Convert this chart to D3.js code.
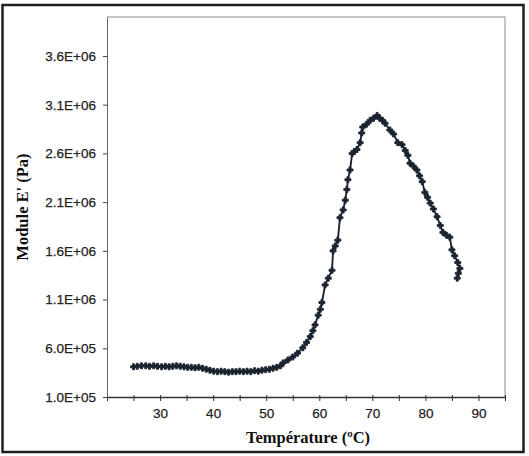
<!DOCTYPE html>
<html><head><meta charset="utf-8">
<script src="https://cdn.jsdelivr.net/npm/d3@7"></script>
<style>body{margin:0;background:#fff}svg{display:block}</style>
</head><body>
<script>
const temperature = [25,25.7,26.5,27.3,28,28.8,29.5,30.3,31,31.7,32.4,33.1,33.8,34.5,35.2,35.9,36.6,37.3,38,38.7,39.4,40.1,40.8,41.5,42.2,42.9,43.6,44.3,45,45.7,46.4,47.1,47.8,48.5,49.2,49.9,50.6,51.3,52,52.7,53.2,54.1,55,55.9,56.9,57.6,58.3,58.8,59.2,59.8,60.2,60.5,61.1,61.7,62.4,62.6,63,63.5,63.9,64.5,64.9,65.2,65.4,65.8,66.2,66.6,67.1,67.7,68,68.2,68.9,69.6,70.2,70.9,71.4,71.9,72.4,73.3,74,74.8,75.6,76.2,76.7,77.1,77.7,78.4,78.9,79.4,79.9,80.4,80.9,81.5,82.2,82.8,83.3,84,84.6,85,85.5,86.1,86.5,86.2,86];
const modulus = [4.1e5,4.15e5,4.2e5,4.2e5,4.15e5,4.2e5,4.15e5,4.1e5,4.15e5,4.1e5,4.15e5,4.2e5,4.15e5,4.1e5,4.05e5,4.05e5,4.0e5,4.05e5,3.95e5,3.85e5,3.75e5,3.65e5,3.6e5,3.65e5,3.6e5,3.55e5,3.6e5,3.6e5,3.65e5,3.6e5,3.65e5,3.6e5,3.7e5,3.65e5,3.75e5,3.8e5,3.85e5,3.95e5,4.05e5,4.2e5,4.5e5,4.8e5,5.1e5,5.5e5,6.05e5,6.6e5,7.2e5,7.8e5,8.4e5,9.4e5,1.0e6,1.07e6,1.25e6,1.32e6,1.4e6,1.6e6,1.65e6,1.71e6,1.94e6,2.02e6,2.12e6,2.23e6,2.33e6,2.43e6,2.6e6,2.62e6,2.64e6,2.71e6,2.81e6,2.87e6,2.9e6,2.94e6,2.96e6,2.99e6,2.96e6,2.94e6,2.91e6,2.84e6,2.8e6,2.71e6,2.69e6,2.63e6,2.58e6,2.5e6,2.47e6,2.43e6,2.37e6,2.31e6,2.2e6,2.15e6,2.09e6,2.03e6,1.95e6,1.86e6,1.79e6,1.76e6,1.74e6,1.61e6,1.55e6,1.48e6,1.42e6,1.37e6,1.32e6];
const xTicks = [20,25,30,35,40,45,50,55,60,65,70,75,80,85,90,95];
const xTickLabels = ["","","30","","40","","50","","60","","70","","80","","90",""];
const yTicks = [1e5,6e5,1.1e6,1.6e6,2.1e6,2.6e6,3.1e6,3.6e6];
const yTickLabels = ["1.0E+05","6.0E+05","1.1E+06","1.6E+06","2.1E+06","2.6E+06","3.1E+06","3.6E+06"];
const xTitle = "Température (ºC)";
const yTitle = "Module E' (Pa)";

const W = 529, H = 456;
const svg = d3.select("body").append("svg").attr("width", W).attr("height", H);

svg.append("rect").attr("x", 2.5).attr("y", 5).attr("width", 521).attr("height", 447)
  .attr("fill", "#fff").attr("stroke", "#1e1e1e").attr("stroke-width", 2.5);

const L = 107, R = 505, T = 17, B = 397;
const x = d3.scaleLinear().domain([20, 95]).range([L, R]);
const y = d3.scaleLinear().domain([1e5, 4e6]).range([B, T]);

svg.append("path").attr("d", `M${L},${T}H${R}V${B}`).attr("fill", "none")
  .attr("stroke", "#8a8a8a").attr("stroke-width", 1);

const xAxis = d3.axisBottom(x).tickValues(xTicks).tickSize(4).tickSizeOuter(0)
  .tickFormat((d, i) => xTickLabels[i]);
const gx = svg.append("g").attr("transform", `translate(0,${B})`).call(xAxis);
gx.select(".domain").attr("stroke", "#333").attr("stroke-width", 1.3);
gx.selectAll(".tick line").attr("stroke", "#333").attr("y1", -2);
gx.selectAll("text").attr("font-family", "Liberation Sans, Arial, sans-serif")
  .attr("font-size", 13.5).attr("fill", "#222").attr("y", 8).attr("dy", "0.95em")
  .attr("stroke", "#222").attr("stroke-width", 0.25);

const yAxis = d3.axisLeft(y).tickValues(yTicks).tickSize(4).tickSizeOuter(0)
  .tickFormat((d, i) => yTickLabels[i]);
const gy = svg.append("g").attr("transform", `translate(${L},0)`).call(yAxis);
gy.select(".domain").attr("stroke", "#666").attr("stroke-width", 1);
gy.selectAll(".tick line").attr("stroke", "#444");
gy.selectAll("text").attr("font-family", "Liberation Sans, Arial, sans-serif")
  .attr("font-size", 13.5).attr("fill", "#222").attr("x", -11)
  .attr("stroke", "#222").attr("stroke-width", 0.25);

const data = temperature.map((t, i) => ({t, e: modulus[i]}));
const line = d3.line().x(d => x(d.t)).y(d => y(d.e));
const col = "#1b2430";
svg.append("path").datum(data).attr("d", line).attr("fill", "none")
  .attr("stroke", col).attr("stroke-width", 1.9).attr("stroke-linejoin", "round");

const plus = d3.symbol().type(d3.symbolCross).size(20);
svg.append("g").selectAll("path").data(data).join("path")
  .attr("transform", d => `translate(${x(d.t)},${y(d.e)})`)
  .attr("d", plus).attr("fill", col).attr("stroke", col).attr("stroke-width", 0.9);

svg.append("text").attr("x", 308).attr("y", 443).attr("text-anchor", "middle")
  .attr("font-family", "Liberation Serif, Times New Roman, serif").attr("font-weight", "bold")
  .attr("font-size", 16.5).attr("fill", "#111").text(xTitle);

svg.append("text").attr("transform", `translate(28,${(T + B) / 2}) rotate(-90)`)
  .attr("text-anchor", "middle").attr("font-family", "Liberation Serif, Times New Roman, serif")
  .attr("font-weight", "bold").attr("font-size", 16.5).attr("fill", "#111").text(yTitle);
</script>
</body></html>
